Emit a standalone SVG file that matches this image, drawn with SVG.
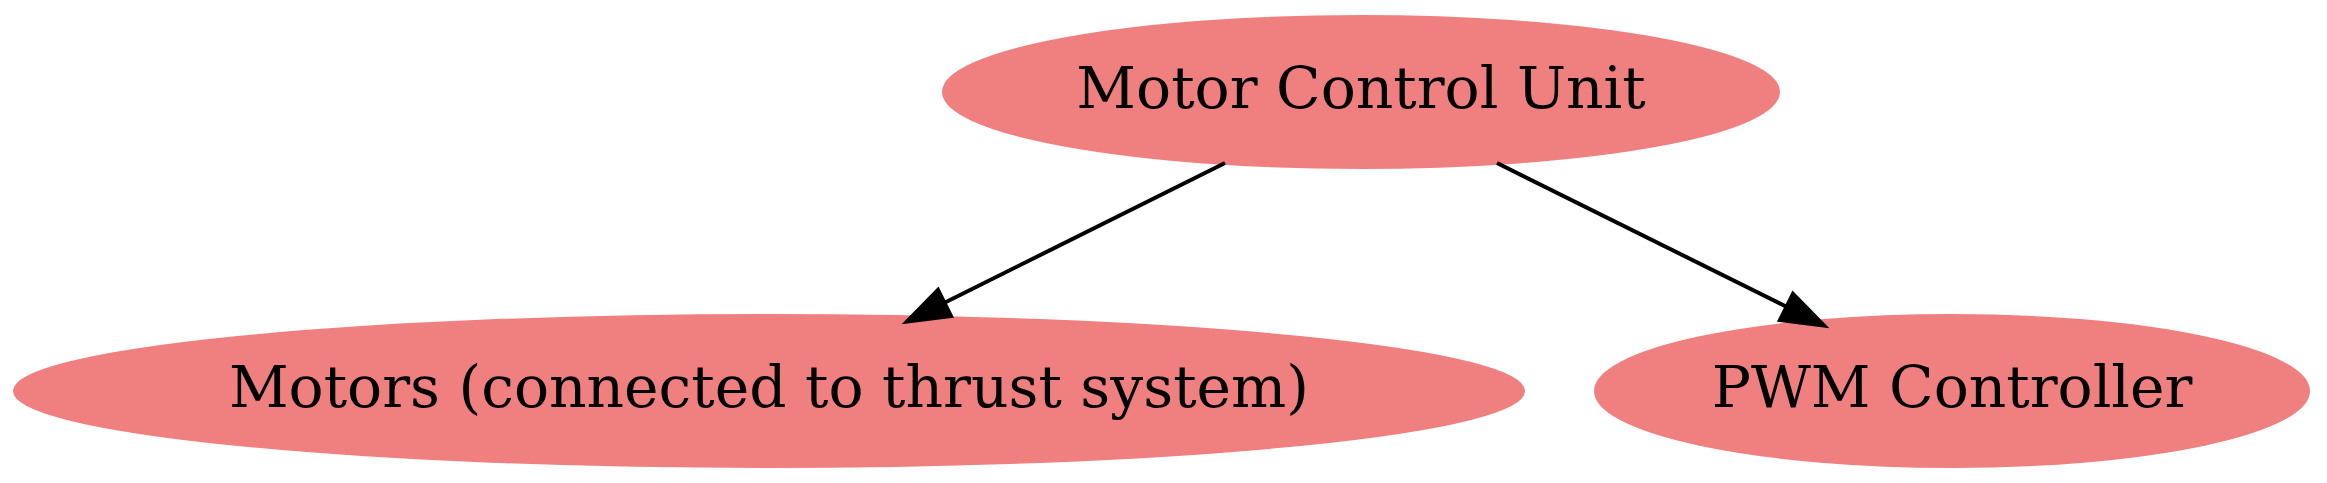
<svg xmlns="http://www.w3.org/2000/svg" width="2327" height="483" viewBox="0 0 2327 483">
<style>
.node ellipse{fill:#f08080;stroke:#f08080;stroke-width:2}
.node text{font-family:"DejaVu Serif","Liberation Serif",serif;font-size:58.3px;fill:#000;text-anchor:middle}
.edge line{stroke:#000;stroke-width:4}
.edge polygon{fill:#000;stroke:#000;stroke-width:4}
</style>
<rect width="2327" height="483" fill="#fff"/>
<g id="mcu" class="node">
<ellipse cx="1361" cy="92" rx="418" ry="76"/>
<text x="1361" y="108">Motor Control Unit</text>
</g>
<g id="motors" class="node">
<ellipse cx="769" cy="391" rx="755" ry="76"/>
<text x="769" y="407">Motors (connected to thrust system)</text>
</g>
<g id="pwm" class="node">
<ellipse cx="1952" cy="391" rx="357" ry="76"/>
<text x="1952" y="407">PWM Controller</text>
</g>
<g id="connectors" class="edge">
<line x1="1225" y1="163" x2="944" y2="303"/>
<polygon points="951,316 907,321.5 938,290"/>
<line x1="1497" y1="163" x2="1787" y2="307"/>
<polygon points="1780,320 1824,325.5 1793,294"/>
</g>
</svg>
